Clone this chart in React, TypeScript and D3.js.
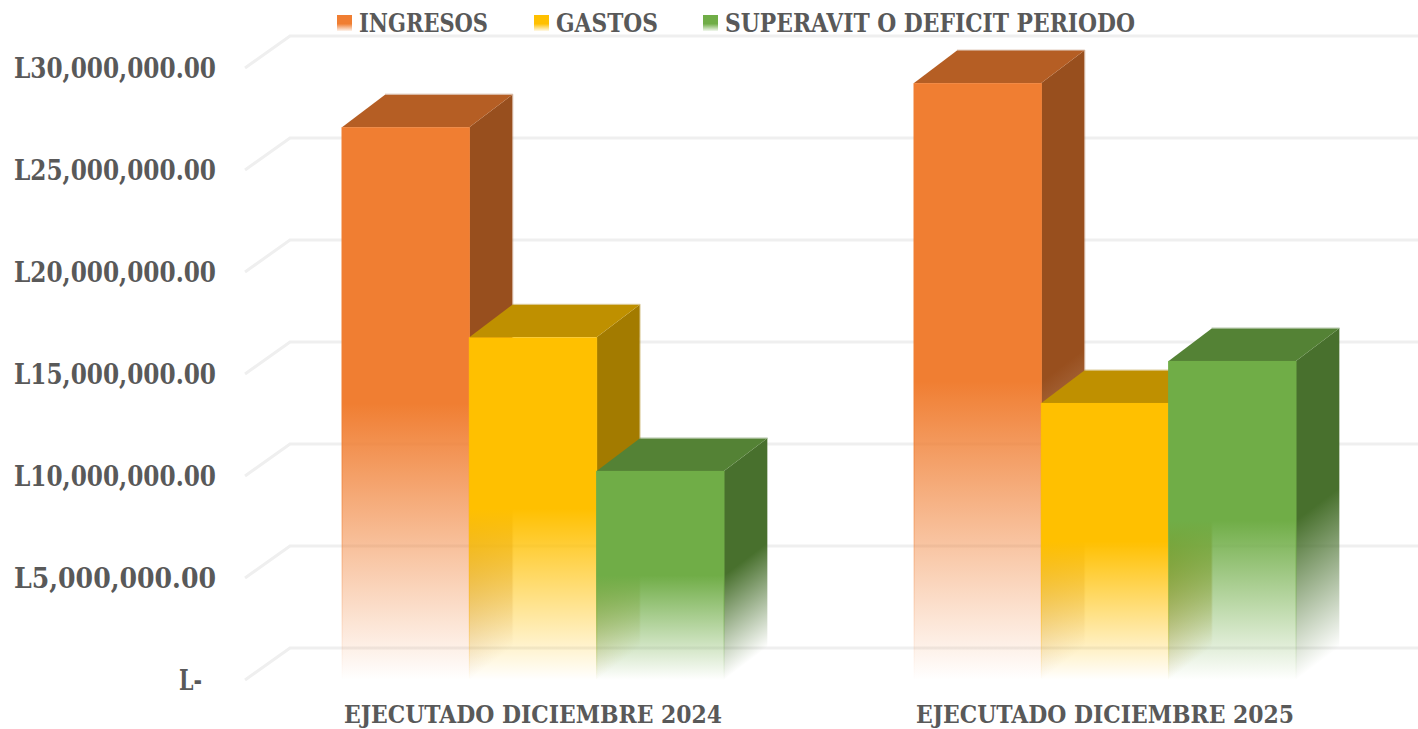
import React from "react";
import * as d3 from "d3";

const categories = ["EJECUTADO DICIEMBRE 2024", "EJECUTADO DICIEMBRE 2025"];
const seriesNames = ["INGRESOS", "GASTOS", "SUPERAVIT O DEFICIT PERIODO"];
const ingresos = [27100000, 29260000];
const gastos = [16800000, 13580000];
const superavit = [10250000, 15640000];
const seriesValues = [ingresos, gastos, superavit];
const tickValues = [0, 5000000, 10000000, 15000000, 20000000, 25000000, 30000000];

const frontColors = ["#F07E32", "#FFC000", "#70AD47"];
const topColors = ["#B55E24", "#BF9000", "#548235"];
const sideColors = ["#984F1E", "#A37B00", "#48702D"];
const legendX = [337, 534, 703];
const legendWidths = [129, 102, 410];

const width = 1418;
const height = 729;
const depthX = 43;
const depthY = 32.5;
const floorRise = 32;

const y = d3.scaleLinear().domain([0, 30000000]).range([680, 68]);
const x0 = d3.scaleBand<string>().domain(categories).range([247, 1391]);
const x1 = d3.scaleBand<number>().domain([0, 1, 2]).range([95, 477]);

const fmt = d3.format(",.2f");
const tickLabel = (v: number) => (v === 0 ? "L-" : `L${fmt(v)}`);
const poly = d3.line();
const font = "'DejaVu Serif Condensed', 'DejaVu Serif', serif";

function Bar({ g, s }: { g: number; s: number }) {
  const value = seriesValues[s][g];
  const left = x0(categories[g])! + x1(s)!;
  const right = left + x1.bandwidth();
  const top = y(value);
  const base = y(0);
  const id = `${g}-${s}`;
  const mid = (top + base) / 2;

  // side gradient runs across the receding edge so the fade follows the floor
  const k = ((base - mid) * depthX) / (depthX * depthX + depthY * depthY);

  return (
    <g>
      <defs>
        <linearGradient id={`front-${id}`} gradientUnits="userSpaceOnUse" x1={0} x2={0} y1={mid} y2={base}>
          <stop offset="0" stopColor={frontColors[s]} stopOpacity={1} />
          <stop offset="1" stopColor={frontColors[s]} stopOpacity={0} />
        </linearGradient>
        <linearGradient
          id={`side-${id}`}
          gradientUnits="userSpaceOnUse"
          x1={right}
          y1={mid}
          x2={right + k * depthY}
          y2={mid + k * depthX}
        >
          <stop offset="0" stopColor={sideColors[s]} stopOpacity={1} />
          <stop offset="1" stopColor={sideColors[s]} stopOpacity={0} />
        </linearGradient>
      </defs>
      <path
        d={poly([[right, top], [right + depthX, top - depthY], [right + depthX, base - depthY], [right, base]])! + "Z"}
        fill={`url(#side-${id})`}
      />
      <path
        d={poly([[left, top], [left + depthX, top - depthY], [right + depthX, top - depthY], [right, top]])! + "Z"}
        fill={topColors[s]}
      />
      {/* pale rim along the back edges */}
      <path
        d={poly([[left + depthX, top - depthY - 0.5], [right + depthX + 0.5, top - depthY - 0.5], [right + depthX + 0.5, base - depthY]])!}
        fill="none"
        stroke={`url(#side-${id})`}
        strokeOpacity={0.35}
      />
      <rect x={left} y={top} width={x1.bandwidth()} height={base - top} fill={`url(#front-${id})`} />
      {/* the faded fronts keep a slightly stronger edge */}
      <path d={`M${left},${top}V${base}M${right},${top}V${base}`} fill="none" stroke={`url(#front-${id})`} />
    </g>
  );
}

export default function App() {
  return (
    <svg width={width} height={height} style={{ position: "absolute", left: 0, top: 0, background: "#fff" }}>
      {tickValues.map((v) => (
        <path
          key={v}
          d={poly([[245, y(v)], [245 + depthX + 2, y(v) - floorRise], [width, y(v) - floorRise]])!}
          fill="none"
          stroke="#EFEFEF"
          strokeWidth={3}
        />
      ))}
      {tickValues.map((v) => (
        <text
          key={v}
          x={v === 0 ? 179 : 14}
          y={y(v) + 10}
          fontFamily={font}
          fontWeight="bold"
          fontSize={27}
          fill="#595959"
          textLength={v === 0 ? 23 : 202}
          lengthAdjust="spacingAndGlyphs"
        >
          {tickLabel(v)}
        </text>
      ))}
      {categories.map((c, g) => (
        <g key={c}>
          {seriesNames.map((_, s) => (
            <Bar key={s} g={g} s={s} />
          ))}
          <text
            x={x0(c)! + 97}
            y={723}
            fontFamily={font}
            fontWeight="bold"
            fontSize={25}
            fill="#595959"
            textLength={378}
            lengthAdjust="spacingAndGlyphs"
          >
            {c}
          </text>
        </g>
      ))}
      <defs>
        {frontColors.map((c, s) => (
          <linearGradient key={c} id={`legend-${s}`} x1="0" x2="0" y1="0" y2="1">
            <stop offset="0.55" stopColor={c} />
            <stop offset="1" stopColor={c} stopOpacity={0.1} />
          </linearGradient>
        ))}
      </defs>
      {seriesNames.map((name, s) => (
        <g key={name}>
          <rect x={legendX[s]} y={15} width={15} height={16} fill={`url(#legend-${s})`} />
          <text
            x={legendX[s] + 22}
            y={32}
            fontFamily={font}
            fontWeight="bold"
            fontSize={26}
            fill="#595959"
            textLength={legendWidths[s]}
            lengthAdjust="spacingAndGlyphs"
          >
            {name}
          </text>
        </g>
      ))}
    </svg>
  );
}
